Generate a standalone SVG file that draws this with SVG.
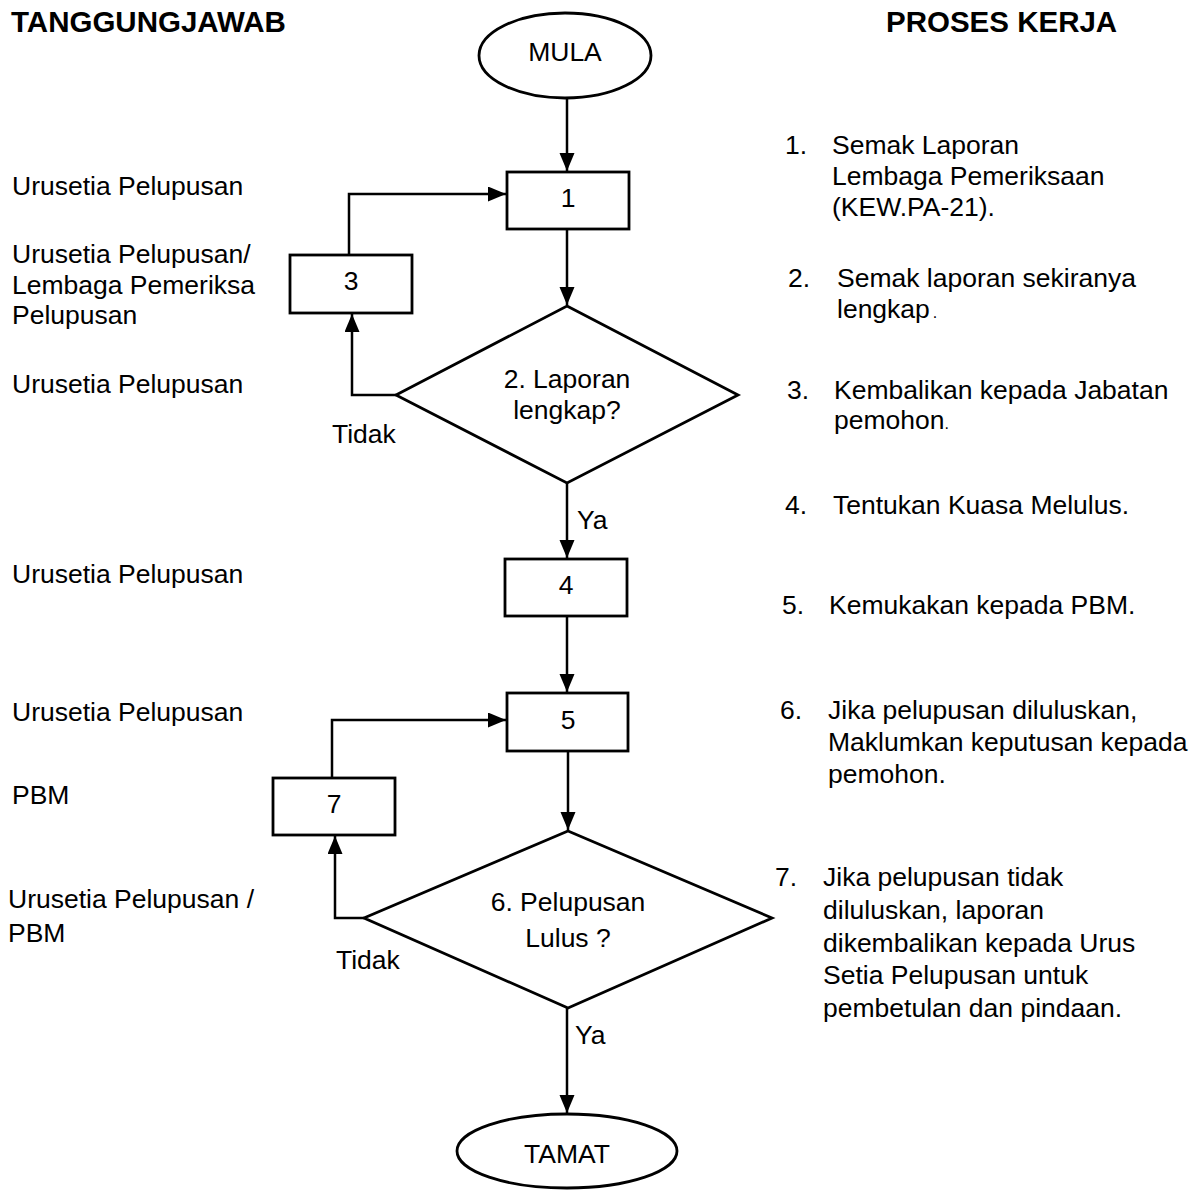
<svg xmlns="http://www.w3.org/2000/svg" width="1200" height="1198" viewBox="0 0 1200 1198">
<style>
text{font-family:"Liberation Sans",Arial,sans-serif;font-size:26.5px;fill:#000}
.h{font-weight:bold;font-size:29.5px}
.c{text-anchor:middle}
.s{fill:#fff;stroke:#000;stroke-width:2.8}
.l{fill:none;stroke:#000;stroke-width:2.5}
</style>
<defs>
<marker id="a" markerUnits="userSpaceOnUse" markerWidth="19" markerHeight="16" refX="18" refY="7.5" orient="auto">
<path d="M0,0 L18,7.5 L0,15 z" fill="#000"/>
</marker>
</defs>
<rect width="1200" height="1198" fill="#fff"/>
<text class="h" x="11" y="32">TANGGUNGJAWAB</text>
<text class="h" x="886" y="32">PROSES KERJA</text>

<g id="connectors">
<path class="l" d="M567,98 V171" marker-end="url(#a)"/>
<path class="l" d="M567,229 V305" marker-end="url(#a)"/>
<path class="l" d="M396,395 H352 V314" marker-end="url(#a)"/>
<path class="l" d="M349,255 V194 H506" marker-end="url(#a)"/>
<path class="l" d="M567,483 V558" marker-end="url(#a)"/>
<path class="l" d="M567,616 V692" marker-end="url(#a)"/>
<path class="l" d="M568,751 V830" marker-end="url(#a)"/>
<path class="l" d="M364,918 H335 V836" marker-end="url(#a)"/>
<path class="l" d="M332,778 V720 H506" marker-end="url(#a)"/>
<path class="l" d="M567,1008 V1113" marker-end="url(#a)"/>
</g>

<g id="mula"><ellipse class="s" cx="565" cy="55.5" rx="86" ry="42.5"/><text class="c" x="565" y="61">MULA</text></g>
<g id="n1"><rect class="s" x="507" y="172" width="122" height="57"/><text class="c" x="568" y="207">1</text></g>
<g id="n3"><rect class="s" x="290" y="255" width="122" height="58"/><text class="c" x="351" y="290">3</text></g>
<g id="d2"><polygon class="s" points="567,306 738,395 567,483 396,395"/><text class="c" x="567" y="388">2. Laporan</text><text class="c" x="567" y="419">lengkap?</text></g>
<g id="n4"><rect class="s" x="505" y="559" width="122" height="57"/><text class="c" x="566" y="594">4</text></g>
<g id="n5"><rect class="s" x="507" y="693" width="121" height="58"/><text class="c" x="568" y="729">5</text></g>
<g id="n7"><rect class="s" x="273" y="778" width="122" height="57"/><text class="c" x="334" y="813">7</text></g>
<g id="d6"><polygon class="s" points="568,831 772,918 568,1008 364,918"/><text class="c" x="568" y="911">6. Pelupusan</text><text class="c" x="568" y="947">Lulus ?</text></g>
<g id="tamat"><ellipse class="s" cx="567" cy="1151" rx="110" ry="37"/><text class="c" x="567" y="1163">TAMAT</text></g>

<g id="edge-labels">
<text x="332" y="443">Tidak</text>
<text x="577" y="529">Ya</text>
<text x="336" y="969">Tidak</text>
<text x="575" y="1044">Ya</text>
</g>

<g id="tanggungjawab">
<text x="12" y="195">Urusetia Pelupusan</text>
<text x="12" y="263">Urusetia Pelupusan/</text>
<text x="12" y="294">Lembaga Pemeriksa</text>
<text x="12" y="324">Pelupusan</text>
<text x="12" y="393">Urusetia Pelupusan</text>
<text x="12" y="583">Urusetia Pelupusan</text>
<text x="12" y="721">Urusetia Pelupusan</text>
<text x="12" y="804">PBM</text>
<text x="8" y="908">Urusetia Pelupusan /</text>
<text x="8" y="942">PBM</text>
</g>

<g id="proses">
<text x="785" y="154">1.</text><text x="832" y="154">Semak Laporan</text>
<text x="832" y="185">Lembaga Pemeriksaan</text>
<text x="832" y="216">(KEW.PA-21).</text>
<text x="788" y="287">2.</text><text x="837" y="287">Semak laporan sekiranya</text>
<text x="837" y="318">lengkap<tspan dx="3" font-size="16">.</tspan></text>
<text x="787" y="399">3.</text><text x="834" y="399">Kembalikan kepada Jabatan</text>
<text x="834" y="429">pemohon<tspan font-size="16">.</tspan></text>
<text x="785" y="514">4.</text><text x="833" y="514">Tentukan Kuasa Melulus.</text>
<text x="782" y="614">5.</text><text x="829" y="614">Kemukakan kepada PBM.</text>
<text x="780" y="719">6.</text><text x="828" y="719">Jika pelupusan diluluskan,</text>
<text x="828" y="751">Maklumkan keputusan kepada</text>
<text x="828" y="783">pemohon.</text>
<text x="775" y="886">7.</text><text x="823" y="886">Jika pelupusan tidak</text>
<text x="823" y="919">diluluskan, laporan</text>
<text x="823" y="952">dikembalikan kepada Urus</text>
<text x="823" y="984">Setia Pelupusan untuk</text>
<text x="823" y="1017">pembetulan dan pindaan.</text>
</g>
</svg>
